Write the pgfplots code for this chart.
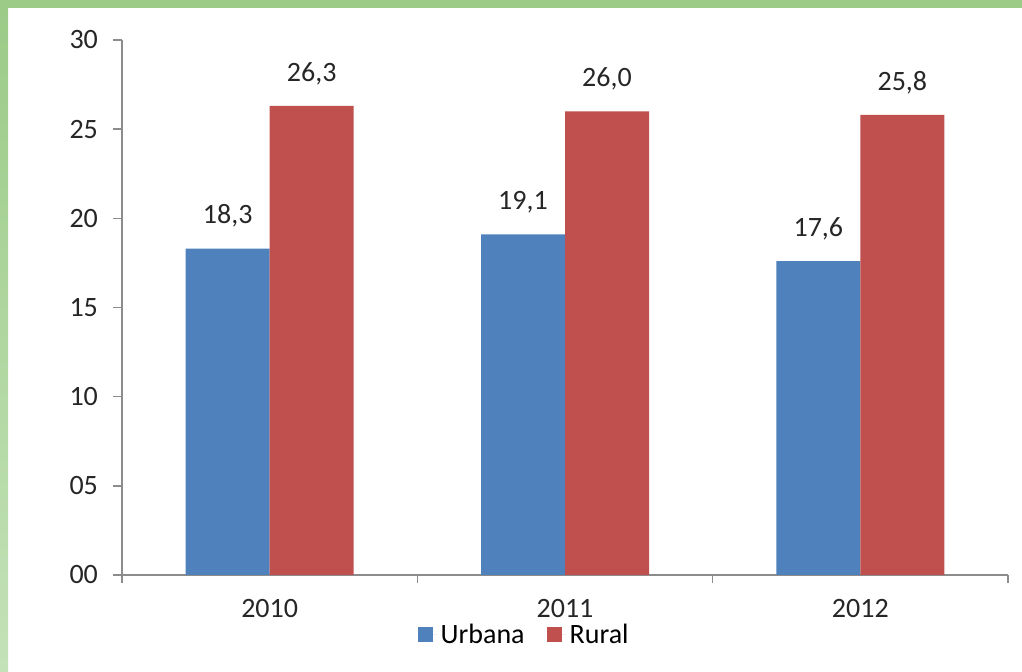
\documentclass[border=0pt]{standalone}
\usepackage{fontspec}
\setmainfont{Carlito}
\usepackage{pgfplots}
\pgfplotsset{compat=1.18}

\definecolor{urb}{HTML}{4F81BD}
\definecolor{rur}{HTML}{C0504D}
\definecolor{axgray}{HTML}{8C8C8C}
\definecolor{frameA}{HTML}{9BCB87}
\definecolor{frameB}{HTML}{C4E2B8}

\begin{document}
\begin{tikzpicture}
% page = 1022 x 672 px, 1px = 0.5pt
\path[use as bounding box,fill=white] (0,0) rectangle (511pt,336pt);
\fill[frameA] (0,332pt) rectangle (511pt,336pt);
\shade[top color=frameA,bottom color=frameB] (0,0) rectangle (4pt,336pt);

\begin{axis}[
 at={(61pt,48.5pt)},anchor=south west,
 scale only axis,width=443pt,height=267.5pt,
 ybar=0pt,bar width=42pt,
 xmin=0.5,xmax=3.5,ymin=0,ymax=30,
 axis x line*=bottom,axis y line*=left,
 axis line style={axgray,line width=0.8pt,-},
 xtick={1,2,3},xticklabels={2010,2011,2012},
 major x tick style={draw=none},
 minor xtick={0.5,1.5,2.5,3.5},
 minor x tick style={axgray,line width=0.8pt},
 minor tick length=4pt,
 xtick align=outside,
 ytick={0,5,10,15,20,25,30},
 yticklabels={00,05,10,15,20,25,30},
 ytick align=outside,
 major y tick style={axgray,line width=0.8pt},
 major tick length=4.5pt,
 tick label style={font=\fontsize{14}{16}\selectfont,text=black!85},
 xticklabel style={yshift=-4pt},
 yticklabel style={xshift=-4pt},
 /pgf/number format/assume math mode=true,
 nodes near coords,
 point meta=explicit symbolic,
 every node near coord/.append style={font=\fontsize{14}{16}\selectfont,text=black!85,anchor=south,yshift=7pt},
 legend style={at={(0.455,-0.112)},anchor=center,draw=none,fill=none,
   legend columns=2,font=\fontsize{14}{16}\selectfont,
   /tikz/every even column/.append style={column sep=9pt}},
 legend image code/.code={\fill[#1] (0pt,-3.75pt) rectangle (7.5pt,3.75pt);
   \path (7.5pt,0pt) -- (9.5pt,0pt);},
]
\addplot[fill=urb,draw=none] coordinates {(1,18.3)[18,3] (2,19.1)[19,1] (3,17.6)[17,6]};
\addplot[fill=rur,draw=none] coordinates {(1,26.3)[26,3] (2,26.0)[26,0] (3,25.8)[25,8]};
\legend{Urbana,Rural}
\end{axis}
\end{tikzpicture}
\end{document}
